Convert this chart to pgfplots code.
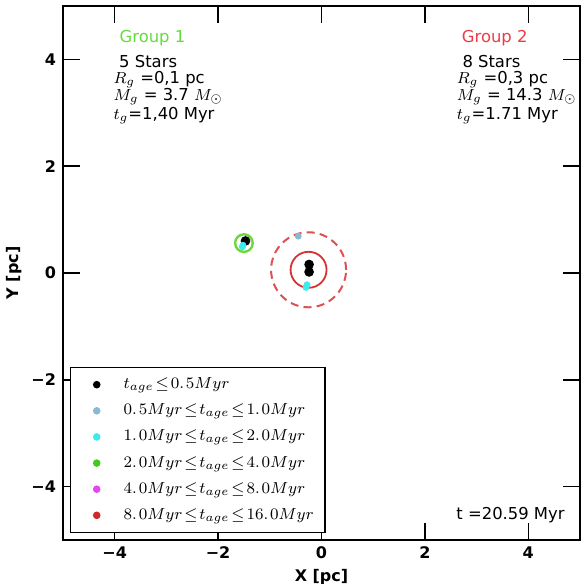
\documentclass[border=0pt]{standalone}
\usepackage{pgfplots}
\pgfplotsset{compat=1.18}
\usepackage{fontspec}
\setmainfont{DejaVu Sans}

\definecolor{agelb}{RGB}{140,185,210}
\definecolor{agecy}{RGB}{60,235,235}
\definecolor{agegr}{RGB}{70,200,30}
\definecolor{agemg}{RGB}{230,70,240}
\definecolor{agerd}{RGB}{210,40,40}
\definecolor{grponetxt}{RGB}{100,220,60}
\definecolor{grponering}{RGB}{110,215,60}
\definecolor{grptwotxt}{RGB}{235,60,70}
\definecolor{grptworing}{RGB}{215,50,50}

% compact math spacing for the legend entries
\newcommand{\legfont}{\fontsize{8}{9.6}\selectfont\thickmuskip=2mu plus 2mu}
\newcommand{\dg}{.\mkern2mu}

\begin{document}
\begin{tikzpicture}
\useasboundingbox (-31.5pt,-22pt) rectangle (258.5pt,270pt);
\begin{axis}[
  at={(0,0)}, anchor=south west,
  scale only axis, width=258.5pt, height=267pt,
  xmin=-5, xmax=5, ymin=-5, ymax=5,
  xtick={-4,-2,0,2,4}, ytick={-4,-2,0,2,4},
  xticklabels={−4,−2,0,2,4}, yticklabels={−4,−2,0,2,4},
  tick align=inside, major tick length=8.5pt,
  every tick/.style={black, line width=0.75pt},
  axis line style={line width=1pt},
  ticklabel style={font=\bfseries\fontsize{8}{9.6}\selectfont},
  label style={font=\bfseries\fontsize{8}{9.6}\selectfont},
  xlabel={X [pc]}, ylabel={Y [pc]},
  xlabel style={yshift=2pt}, ylabel style={yshift=-2pt},
  legend cell align=left,
  legend image code/.code={
    \path[draw=none, fill=none] (0pt,-2pt) rectangle (21pt,2pt);
    \draw[#1] plot coordinates {(9.5pt,0pt)};
  },
  legend style={at={(0.0135,0.013)}, anchor=south west,
    font=\legfont, draw=black, line width=0.75pt,
    row sep=2.1pt, inner xsep=3.5pt, inner ysep=3pt},
  clip=false,
]
% group rings (radius given as mark size)
\addplot[forget plot, only marks, mark=o, mark size=4.4pt, grponering,
  mark options={line width=1.2pt}] coordinates {(-1.50,0.56)};
\addplot[forget plot, only marks, mark=o, mark size=9pt, grptworing,
  mark options={line width=0.9pt}] coordinates {(-0.25,0.06)};
\addplot[forget plot, only marks, mark=o, mark size=18.75pt, grptworing!85!white,
  mark options={line width=1pt, dash pattern=on 4pt off 2.6pt}] coordinates {(-0.25,0.06)};

% stars by age class
\addplot[forget plot, only marks, mark=*, mark size=2.2pt, black]
  coordinates {(-0.24,0.16) (-0.24,0.02) (-1.47,0.60)};
\addplot[forget plot, only marks, mark=*, mark size=1.5pt, agelb, draw=agelb]
  coordinates {(-0.45,0.69)};
\addplot[forget plot, only marks, mark=*, mark size=1.5pt, agecy]
  coordinates {(-0.30,-0.27) (-0.28,-0.22) (-1.53,0.49) (-1.52,0.52)};

% legend
\addlegendimage{only marks, mark=*, mark size=1.5pt, black}
\addlegendentry{$t_{age}\leq 0\dg5Myr$}
\addlegendimage{only marks, mark=*, mark size=1.5pt, agelb}
\addlegendentry{$0\dg5Myr\leq t_{age}\leq 1\dg0Myr$}
\addlegendimage{only marks, mark=*, mark size=1.5pt, agecy}
\addlegendentry{$1\dg0Myr\leq t_{age}\leq 2\dg0Myr$}
\addlegendimage{only marks, mark=*, mark size=1.5pt, agegr}
\addlegendentry{$2\dg0Myr\leq t_{age}\leq 4\dg0Myr$}
\addlegendimage{only marks, mark=*, mark size=1.5pt, agemg}
\addlegendentry{$4\dg0Myr\leq t_{age}\leq 8\dg0Myr$}
\addlegendimage{only marks, mark=*, mark size=1.5pt, agerd}
\addlegendentry{$8\dg0Myr\leq t_{age}\leq 16\dg0Myr$}

% group annotations
\begin{scope}[every node/.style={font=\fontsize{8.2}{10}\selectfont, inner sep=0pt}]
\node[grponetxt] at (axis cs:-3.27,4.39) {Group 1};
\node[anchor=west] at (axis cs:-3.92,3.96) {5 Stars};
\node[anchor=west] at (axis cs:-4.03,3.62) {$R_g$ =0,1 pc};
\node[anchor=west] at (axis cs:-4.03,3.30) {$M_g$ = 3.7 $M_\odot$};
\node[anchor=west] at (axis cs:-4.03,2.94) {$t_g$=1,40 Myr};
\node[grptwotxt] at (axis cs:3.35,4.39) {Group 2};
\node[anchor=west] at (axis cs:2.72,3.96) {8 Stars};
\node[anchor=west] at (axis cs:2.61,3.62) {$R_g$ =0,3 pc};
\node[anchor=west] at (axis cs:2.61,3.30) {$M_g$ = 14.3 $M_\odot$};
\node[anchor=west] at (axis cs:2.61,2.94) {$t_g$=1.71 Myr};
\node[anchor=east] at (axis cs:4.71,-4.54) {t =20.59 Myr};
\end{scope}
\end{axis}
\end{tikzpicture}
\end{document}
